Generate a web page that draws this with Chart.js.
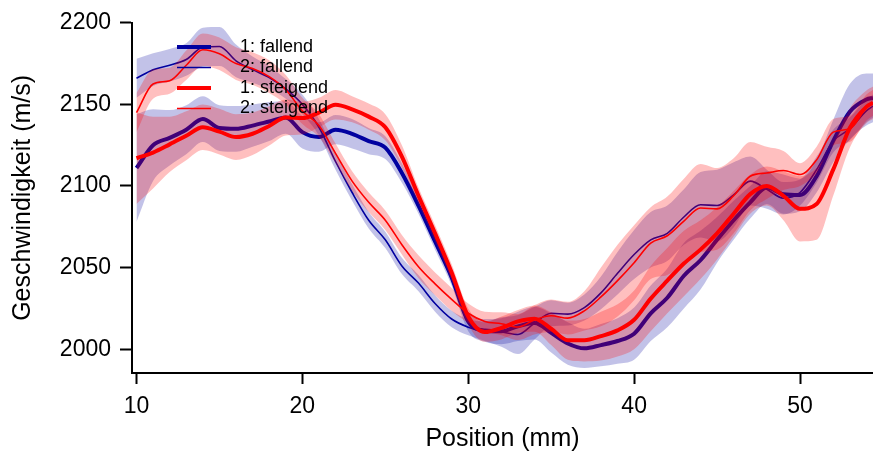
<!DOCTYPE html>
<html>
<head>
<meta charset="utf-8">
<script src="https://cdn.jsdelivr.net/npm/chart.js@4/dist/chart.umd.min.js"></script>
<style>
    body { margin: 0; background: #fff; }
    #chart { display: block; }
</style>
</head>
<body>
<canvas id="chart" width="873" height="454"></canvas>
<script>
// Positionen (mm)
const positions = [10, 11, 12, 13, 14, 15, 16, 17, 18, 19, 20, 21, 22, 23, 24, 25, 26, 27, 28, 29, 30, 31, 32, 33, 34, 35, 36, 37, 38, 39, 40, 41, 42, 43, 44, 45, 46, 47, 48, 49, 50, 51, 52, 53, 54, 54.4];

// 1: fallend
const fallend1 = [2111, 2125, 2129.5, 2134.5, 2141, 2135.5, 2135, 2137, 2139.5, 2142, 2133, 2130, 2134.5, 2132, 2127.5, 2123.5, 2108, 2088, 2066, 2044, 2017, 2011.5, 2011, 2014, 2016, 2010, 2003.5, 2000.5, 2002.5, 2005, 2009.5, 2022, 2031.5, 2045, 2054.5, 2067, 2079, 2090, 2099, 2095, 2094.5, 2106, 2127.5, 2145.5, 2153, 2154];
const fallend1Low = [2078, 2103, 2112.5, 2119.5, 2127, 2121.5, 2121, 2124, 2127.5, 2132, 2123, 2121, 2125.5, 2123, 2119.5, 2116.5, 2102, 2083, 2061, 2039, 2011, 2004.5, 2003, 2005, 2006, 1998, 1990.5, 1988.5, 1989.5, 1991, 1993.5, 2005, 2013.5, 2025, 2036.5, 2053, 2067, 2080, 2089, 2083, 2084.5, 2096, 2114.5, 2128.5, 2137, 2139];
const fallend1High = [2144, 2147, 2146.5, 2149.5, 2155, 2149.5, 2149, 2150, 2151.5, 2152, 2143, 2139, 2143.5, 2141, 2135.5, 2130.5, 2114, 2093, 2071, 2049, 2023, 2018.5, 2019, 2023, 2026, 2022, 2016.5, 2012.5, 2015.5, 2019, 2025.5, 2039, 2049.5, 2065, 2072.5, 2081, 2091, 2100, 2109, 2107, 2104.5, 2116, 2140.5, 2162.5, 2169, 2169];

// 2: fallend
const fallend2 = [2166, 2171.3, 2174, 2177.5, 2185, 2185.5, 2176.7, 2171.3, 2166.4, 2159.5, 2150, 2136, 2115, 2096, 2079, 2067, 2051, 2040.5, 2028, 2018.5, 2013.5, 2011, 2010.5, 2009, 2016, 2022, 2021.5, 2025.5, 2034.5, 2046.5, 2058, 2067, 2071, 2081, 2088.5, 2088, 2094.5, 2103, 2098, 2092.5, 2096, 2110, 2127.5, 2135, 2146, 2149];
const fallend2Low = [2154, 2161.3, 2164, 2167.5, 2173, 2173.5, 2166.7, 2163.3, 2159.4, 2153.5, 2144, 2131, 2110, 2091, 2074, 2062, 2046, 2035.5, 2023, 2013.5, 2008.5, 2005, 2001.5, 1997, 2006, 2014, 2014.5, 2017.5, 2024.5, 2033.5, 2043, 2050, 2054, 2064, 2068.5, 2066, 2074.5, 2088, 2086, 2082.5, 2088, 2102, 2120.5, 2128, 2139, 2142];
const fallend2High = [2178, 2181.3, 2184, 2187.5, 2197, 2197.5, 2186.7, 2179.3, 2173.4, 2165.5, 2156, 2141, 2120, 2101, 2084, 2072, 2056, 2045.5, 2033, 2023.5, 2018.5, 2017, 2019.5, 2021, 2026, 2030, 2028.5, 2033.5, 2044.5, 2059.5, 2073, 2084, 2088, 2098, 2108.5, 2110, 2114.5, 2118, 2110, 2102.5, 2104, 2118, 2134.5, 2142, 2153, 2156];

// 1: steigend
const steigend1 = [2117, 2120.5, 2125.5, 2130.8, 2136, 2133.3, 2130, 2132, 2136.8, 2142, 2141.6, 2145, 2149.8, 2147, 2142.5, 2136, 2118, 2094, 2071, 2047, 2020, 2010.5, 2013, 2017, 2018.7, 2012.5, 2005.5, 2005.5, 2008, 2011.5, 2018, 2031, 2042, 2052.5, 2061, 2071, 2083, 2095, 2100, 2094, 2086, 2089, 2110, 2135.5, 2148.5, 2151];
const steigend1Low = [2089, 2098.5, 2108.5, 2115.8, 2122, 2119.3, 2116, 2119, 2124.8, 2131, 2131.6, 2136, 2140.8, 2139, 2134.5, 2128, 2111, 2089, 2066, 2042, 2015, 2004.5, 2006, 2010, 2010.7, 2002.5, 1993.5, 1992.5, 1993, 1995.5, 2000, 2011, 2022, 2032.5, 2043, 2055, 2069, 2083, 2088, 2079, 2066, 2067, 2094, 2123.5, 2138.5, 2141];
const steigend1High = [2145, 2142.5, 2142.5, 2145.8, 2150, 2147.3, 2144, 2145, 2148.8, 2153, 2151.6, 2154, 2158.8, 2155, 2150.5, 2144, 2125, 2099, 2076, 2052, 2025, 2016.5, 2020, 2024, 2026.7, 2022.5, 2017.5, 2018.5, 2023, 2027.5, 2036, 2051, 2062, 2072.5, 2079, 2087, 2097, 2107, 2112, 2109, 2106, 2111, 2126, 2147.5, 2158.5, 2161];

// 2: steigend
const steigend2 = [2145, 2162.5, 2164.5, 2174, 2183.5, 2181, 2175, 2172, 2167, 2159, 2146, 2137, 2120, 2103, 2090, 2079, 2064, 2050.5, 2040, 2030.5, 2022, 2017, 2015.6, 2013.6, 2018, 2020.5, 2019, 2023.5, 2032, 2042, 2053, 2065, 2069.5, 2078.5, 2086.5, 2086, 2094, 2106, 2108, 2109.5, 2107, 2116, 2133, 2135, 2148, 2151];
const steigend2Low = [2133, 2153.5, 2156.5, 2165, 2173.5, 2171, 2165, 2162, 2157, 2150, 2138, 2130, 2114, 2097, 2084, 2073, 2058, 2043.5, 2033, 2023.5, 2016, 2011, 2008.6, 2005.6, 2009, 2010.5, 2009, 2011.5, 2014, 2020, 2030, 2043, 2045.5, 2052.5, 2059.5, 2061, 2071, 2085, 2092, 2097.5, 2100, 2108, 2125, 2127, 2140, 2143];
const steigend2High = [2157, 2171.5, 2172.5, 2183, 2193.5, 2191, 2185, 2182, 2177, 2168, 2154, 2144, 2126, 2109, 2096, 2085, 2070, 2057.5, 2047, 2037.5, 2028, 2023, 2022.6, 2021.6, 2027, 2030.5, 2029, 2035.5, 2050, 2064, 2076, 2087, 2093.5, 2104.5, 2113.5, 2111, 2117, 2127, 2124, 2121.5, 2114, 2124, 2141, 2143, 2156, 2159];

// Achsenbeschriftung
const xTicks = [10, 20, 30, 40, 50];
const yTicks = [2000, 2050, 2100, 2150, 2200];

const BLUE = '#0000a0';
const RED = '#ff0000';
const BLUE_BAND = 'rgba(0, 0, 160, 0.24)';
const RED_BAND = 'rgba(255, 0, 0, 0.25)';

function toPoints(values) {
    return positions.map((x, i) => ({ x: x, y: values[i] }));
}

// Band = untere Grenze + obere Grenze (fill bis zur vorigen)
function bandDatasets(low, high, color, order) {
    return [
        {
            data: toPoints(low),
            borderColor: 'rgba(0,0,0,0)',
            borderWidth: 1,
            fill: false,
            order: order
        },
        {
            data: toPoints(high),
            borderColor: 'rgba(0,0,0,0)',
            borderWidth: 1,
            backgroundColor: color,
            fill: '-1',
            order: order
        }
    ];
}

function lineDataset(label, values, color, width, order) {
    return {
        label: label,
        data: toPoints(values),
        borderColor: color,
        borderWidth: width,
        fill: false,
        order: order,
        legendLine: true
    };
}

const datasets = [
    ...bandDatasets(fallend1Low, fallend1High, BLUE_BAND, 8),
    lineDataset('1: fallend', fallend1, BLUE, 4, 7),
    ...bandDatasets(fallend2Low, fallend2High, BLUE_BAND, 6),
    lineDataset('2: fallend', fallend2, BLUE, 1.6, 5),
    ...bandDatasets(steigend1Low, steigend1High, RED_BAND, 4),
    lineDataset('1: steigend', steigend1, RED, 4, 3),
    ...bandDatasets(steigend2Low, steigend2High, RED_BAND, 2),
    lineDataset('2: steigend', steigend2, RED, 1.6, 1)
];

// Legende oben links im Plotbereich
const insideLegend = {
    id: 'insideLegend',
    afterDatasetsDraw(chart) {
        const ctx = chart.ctx;
        const items = chart.data.datasets.filter(ds => ds.legendLine);
        ctx.save();
        ctx.font = '18px "Liberation Sans", Arial, sans-serif';
        ctx.textBaseline = 'middle';
        ctx.textAlign = 'left';
        items.forEach((ds, i) => {
            const y = 47 + i * 20.5;
            ctx.strokeStyle = ds.borderColor;
            ctx.lineWidth = ds.borderWidth;
            ctx.beginPath();
            ctx.moveTo(177, y);
            ctx.lineTo(211, y);
            ctx.stroke();
            ctx.fillStyle = '#000';
            ctx.fillText(ds.label, 240, y);
        });
        ctx.restore();
    }
};

Chart.defaults.font.family = '"Liberation Sans", Arial, sans-serif';
Chart.defaults.color = '#000';

new Chart(document.getElementById('chart'), {
    type: 'line',
    data: { datasets: datasets },
    options: {
        responsive: false,
        animation: false,
        devicePixelRatio: 1,
        layout: { padding: { top: 21, right: 0, left: 0, bottom: 0 } },
        elements: {
            point: { radius: 0 },
            line: { cubicInterpolationMode: 'monotone' }
        },
        plugins: {
            legend: { display: false },
            tooltip: { enabled: false }
        },
        scales: {
            x: {
                type: 'linear',
                min: 9.73,
                max: 54.4,
                afterBuildTicks: scale => { scale.ticks = xTicks.map(v => ({ value: v })); },
                afterFit: scale => { scale.height = 81; },
                grid: { drawOnChartArea: false, tickLength: 11, tickWidth: 2, tickColor: '#000' },
                border: { display: true, color: '#000', width: 2 },
                ticks: { font: { size: 23 }, padding: 9, maxRotation: 0, callback: v => String(v) },
                title: { display: true, text: 'Position (mm)', font: { size: 25 }, padding: 0 }
            },
            y: {
                min: 1985.4,
                max: 2200,
                afterBuildTicks: scale => { scale.ticks = yTicks.map(v => ({ value: v })); },
                afterFit: scale => { scale.width = 132; },
                grid: { drawOnChartArea: false, tickLength: 12, tickWidth: 2, tickColor: '#000' },
                border: { display: true, color: '#000', width: 2 },
                ticks: { font: { size: 23 }, padding: 9, callback: v => String(v) },
                title: { display: true, text: 'Geschwindigkeit (m/s)', font: { size: 25 }, padding: { top: 8, bottom: 0 } }
            }
        }
    },
    plugins: [insideLegend]
});
</script>
</body>
</html>
